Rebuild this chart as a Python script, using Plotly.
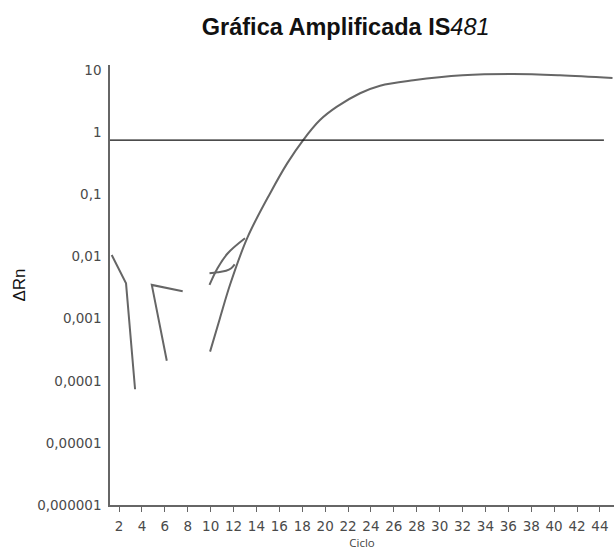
import plotly.graph_objects as go

# Main amplification curve (cycle, ΔRn)
main_cycles = [9.95, 10.8, 11.7, 13.2, 15.2, 16.7, 18.1, 19.55, 21.0, 23.05, 24.8, 27.7, 32.0, 36.4, 40.5, 45.1]
main_values = [2.95e-4, 1.0e-3, 3.55e-3, 0.02, 0.105, 0.32, 0.76, 1.58, 2.57, 4.27, 5.65, 6.9, 8.3, 8.7, 8.3, 7.5]

# Noise traces
noise1_cycles = [1.36, 2.61, 3.4]
noise1_values = [0.0106, 0.0037, 7.3e-5]
noise2_cycles = [6.17, 4.86, 7.56]
noise2_values = [2.1e-4, 3.5e-3, 2.76e-3]
noise3_cycles = [9.9, 10.6, 11.5, 13.0]
noise3_values = [3.5e-3, 6.5e-3, 0.0113, 0.0197]
noise4_cycles = [9.9, 10.6, 11.35, 11.8, 12.1]
noise4_values = [5.4e-3, 5.6e-3, 5.9e-3, 6.5e-3, 7.5e-3]

# Threshold
threshold_cycles = [1.21, 44.35]
threshold_values = [0.75, 0.75]

x_ticks = list(range(2, 46, 2))
y_tickvals = [10, 1, 0.1, 0.01, 0.001, 0.0001, 0.00001, 0.000001]
y_ticktext = ["10", "1", "0,1", "0,01", "0,001", "0,0001", "0,00001", "0,000001"]

gray = "#666666"
tick_font = dict(family="DejaVu Sans", size=13.5, color="#4a4a4a")
fig = go.Figure()
for cx, cy, sh in [(main_cycles, main_values, "spline"),
                   (noise1_cycles, noise1_values, "linear"),
                   (noise2_cycles, noise2_values, "linear"),
                   (noise3_cycles, noise3_values, "spline"),
                   (noise4_cycles, noise4_values, "spline")]:
    fig.add_trace(go.Scatter(x=cx, y=cy, mode="lines",
                             line=dict(color=gray, width=2, shape=sh),
                             showlegend=False, hoverinfo="skip"))
fig.add_trace(go.Scatter(x=threshold_cycles, y=threshold_values, mode="lines",
                         line=dict(color="#111111", width=1.3),
                         showlegend=False, hoverinfo="skip"))

fig.update_layout(
    width=614, height=552,
    margin=dict(l=110, r=0, t=65, b=47),
    paper_bgcolor="white", plot_bgcolor="white",
    title=dict(text="<b>Gráfica Amplificada IS</b><i>481</i>",
               x=0.563, xanchor="center", y=0.951, yanchor="middle",
               font=dict(family="Liberation Sans, Arial", size=23.5, color="#111111")),
    xaxis=dict(range=[1.21, 45.23], tickvals=x_ticks, ticktext=[str(v) for v in x_ticks],
               showgrid=False, zeroline=False, showline=True, linecolor=gray, linewidth=1.5,
               ticks="outside", ticklen=5, tickcolor=gray, tickwidth=1,
               ticklabelstandoff=3, tickfont=tick_font,
               title=dict(text="Ciclo", font=dict(family="Open Sans", size=11.5, color="#444444"),
                          standoff=6)),
    yaxis=dict(type="log", range=[-6, 1.085], tickvals=y_tickvals, ticktext=y_ticktext,
               showgrid=False, zeroline=False, showline=True, linecolor=gray, linewidth=1.5,
               ticks="", ticklabelstandoff=4, tickfont=tick_font,
               title=dict(text="ΔRn", font=dict(family="Liberation Sans, Arial", size=17, color="#111111"),
                          standoff=7)),
)

fig.write_html("out.html", config={"displayModeBar": False},
               post_script="document.body.style.margin='0';document.body.style.overflow='hidden';")
